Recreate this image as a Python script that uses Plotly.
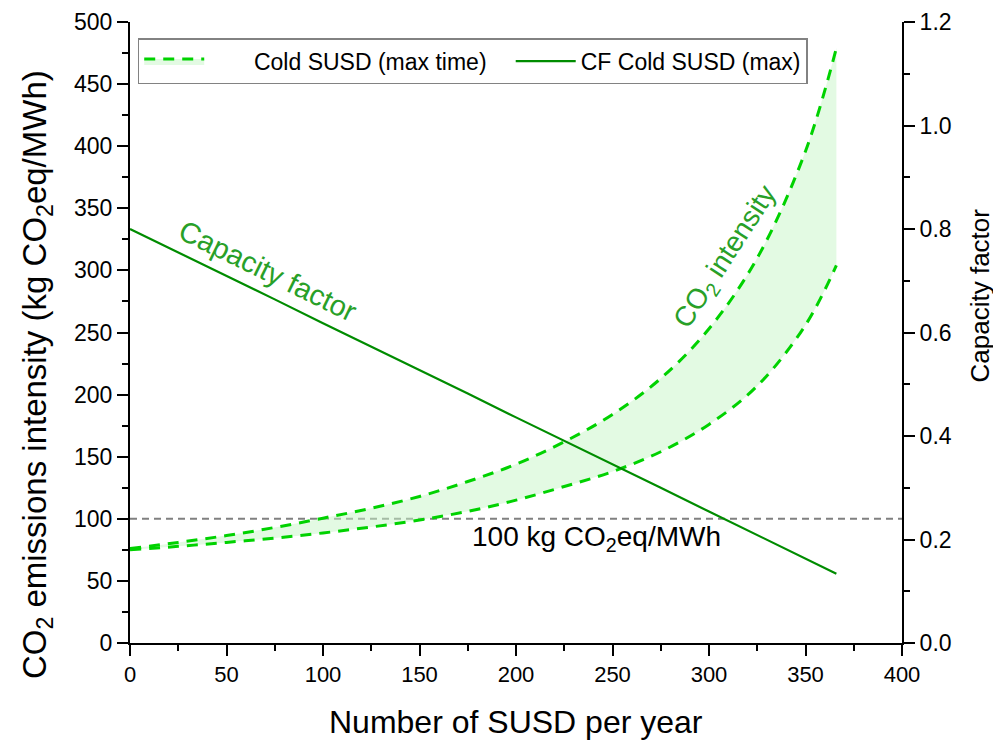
import plotly.graph_objects as go

# Data
susd = [0, 25, 50, 75, 100, 125, 150, 175, 200, 225, 250, 275, 300, 325, 350, 366]
co2_upper = [76, 81, 86.5, 93, 100.5, 108.5, 118, 130, 144, 162, 184, 213, 253, 310, 396, 479]
co2_lower = [75, 77.8, 81, 84.5, 88.6, 93.4, 99, 106, 115, 126, 138, 154, 176, 207, 256, 304]
cf_max = [0.800, 0.755, 0.709, 0.664, 0.618, 0.573, 0.527, 0.482, 0.436, 0.391,
          0.345, 0.300, 0.254, 0.209, 0.163, 0.134]

x_ticks = [0, 50, 100, 150, 200, 250, 300, 350, 400]
y_ticks = [0, 50, 100, 150, 200, 250, 300, 350, 400, 450, 500]
cf_ticks = [0.0, 0.2, 0.4, 0.6, 0.8, 1.0, 1.2]
threshold = 100

DASH_GREEN = "rgb(0,210,0)"
FILL_GREEN = "rgba(200,245,200,0.5)"
CF_GREEN = "rgb(0,140,0)"
TEXT_GREEN = "rgb(40,160,40)"
FONT = "Liberation Sans, Arial, sans-serif"
NB = "\u00a0"

fig = go.Figure()

fig.add_trace(go.Scatter(
    x=susd, y=co2_lower, mode="lines", line=dict(color=DASH_GREEN, width=3, dash="11px,8px", shape="spline"),
    showlegend=False, legendgroup="cold", hoverinfo="skip"))
fig.add_trace(go.Scatter(
    x=susd, y=co2_upper, mode="lines", line=dict(color=DASH_GREEN, width=3, dash="11px,8px", shape="spline"),
    fill="tonexty", fillcolor=FILL_GREEN, name=NB * 7 + "Cold SUSD (max time)" + NB * 3, legendgroup="cold"))
fig.add_trace(go.Scatter(
    x=susd, y=cf_max, mode="lines", line=dict(color=CF_GREEN, width=2.2),
    name="CF Cold SUSD (max)", yaxis="y2"))

def axis_common(size):
    return dict(
        showline=True, linecolor="black", linewidth=2, showgrid=False, zeroline=False,
        ticks="outside", ticklen=11, tickwidth=2, tickcolor="black", automargin=False,
        tickfont=dict(family=FONT, size=size, color="black"),
    )

fig.update_layout(
    width=993, height=734,
    margin=dict(l=122, r=99, t=14, b=99),
    paper_bgcolor="white", plot_bgcolor="white",
    font=dict(family=FONT, color="black"),
    xaxis=dict(
        **axis_common(22), range=[0, 400], tickvals=x_ticks,
        minor=dict(ticks="outside", ticklen=6, tickwidth=2, tickcolor="black", dtick=25),
    ),
    xaxis2=dict(
        overlaying="x", matches="x", side="top", range=[0, 400], showline=True, linecolor="black",
        linewidth=2, ticks="inside", ticklen=11, tickwidth=2, tickcolor="black",
        tickvals=x_ticks, showticklabels=False, showgrid=False, zeroline=False, automargin=False,
        minor=dict(ticks="inside", ticklen=6, tickwidth=2, tickcolor="black", dtick=25),
    ),
    yaxis=dict(
        **axis_common(23), range=[0, 500], tickvals=y_ticks,
        minor=dict(ticks="outside", ticklen=6, tickwidth=2, tickcolor="black", dtick=25),
    ),
    yaxis2=dict(
        **axis_common(23), range=[0, 1.2], tickvals=cf_ticks, tickformat=".1f",
        overlaying="y", side="right",
        minor=dict(ticks="outside", ticklen=6, tickwidth=2, tickcolor="black", dtick=0.1),
    ),
    legend=dict(
        orientation="h", x=0.01, y=0.974, xanchor="left", yanchor="top",
        bgcolor="white", bordercolor="rgb(130,130,130)", borderwidth=1.5,
        font=dict(family=FONT, size=23, color="black"), itemwidth=60,
        traceorder="normal",
    ),
    shapes=[dict(type="line", xref="x", yref="y", x0=0, x1=400, y0=threshold, y1=threshold,
                 line=dict(color="rgb(128,128,128)", width=2, dash="7px,5px"), layer="below")],
    annotations=[
        dict(x=0.5, y=-0.127, xref="paper", yref="paper", xanchor="center", yanchor="middle",
             text="Number of SUSD per year",
             showarrow=False, font=dict(family=FONT, size=32, color="black")),
        dict(x=-0.1205, y=0.433, xref="paper", yref="paper", xanchor="center", yanchor="middle",
             text="CO<sub>2</sub> emissions intensity (kg CO<sub>2</sub>eq/MWh)",
             showarrow=False, textangle=-90, font=dict(family=FONT, size=33, color="black")),
        dict(x=1.1005, y=0.559, xref="paper", yref="paper", xanchor="center", yanchor="middle",
             text="Capacity factor",
             showarrow=False, textangle=-90, font=dict(family=FONT, size=26, color="black")),
        dict(x=241.5, y=84.5, xref="x", yref="y", text="100 kg CO<sub>2</sub>eq/MWh", showarrow=False,
             font=dict(family=FONT, size=28, color="black")),
        dict(x=71.5, y=299.5, xref="x", yref="y", text="Capacity factor", showarrow=False,
             textangle=26, font=dict(family=FONT, size=29, color=TEXT_GREEN)),
        dict(x=309, y=310, xref="x", yref="y", text="CO<sub>2</sub> intensity", showarrow=False,
             textangle=-57, font=dict(family=FONT, size=28, color=TEXT_GREEN)),
    ],
)

fig.write_html("out.html")
